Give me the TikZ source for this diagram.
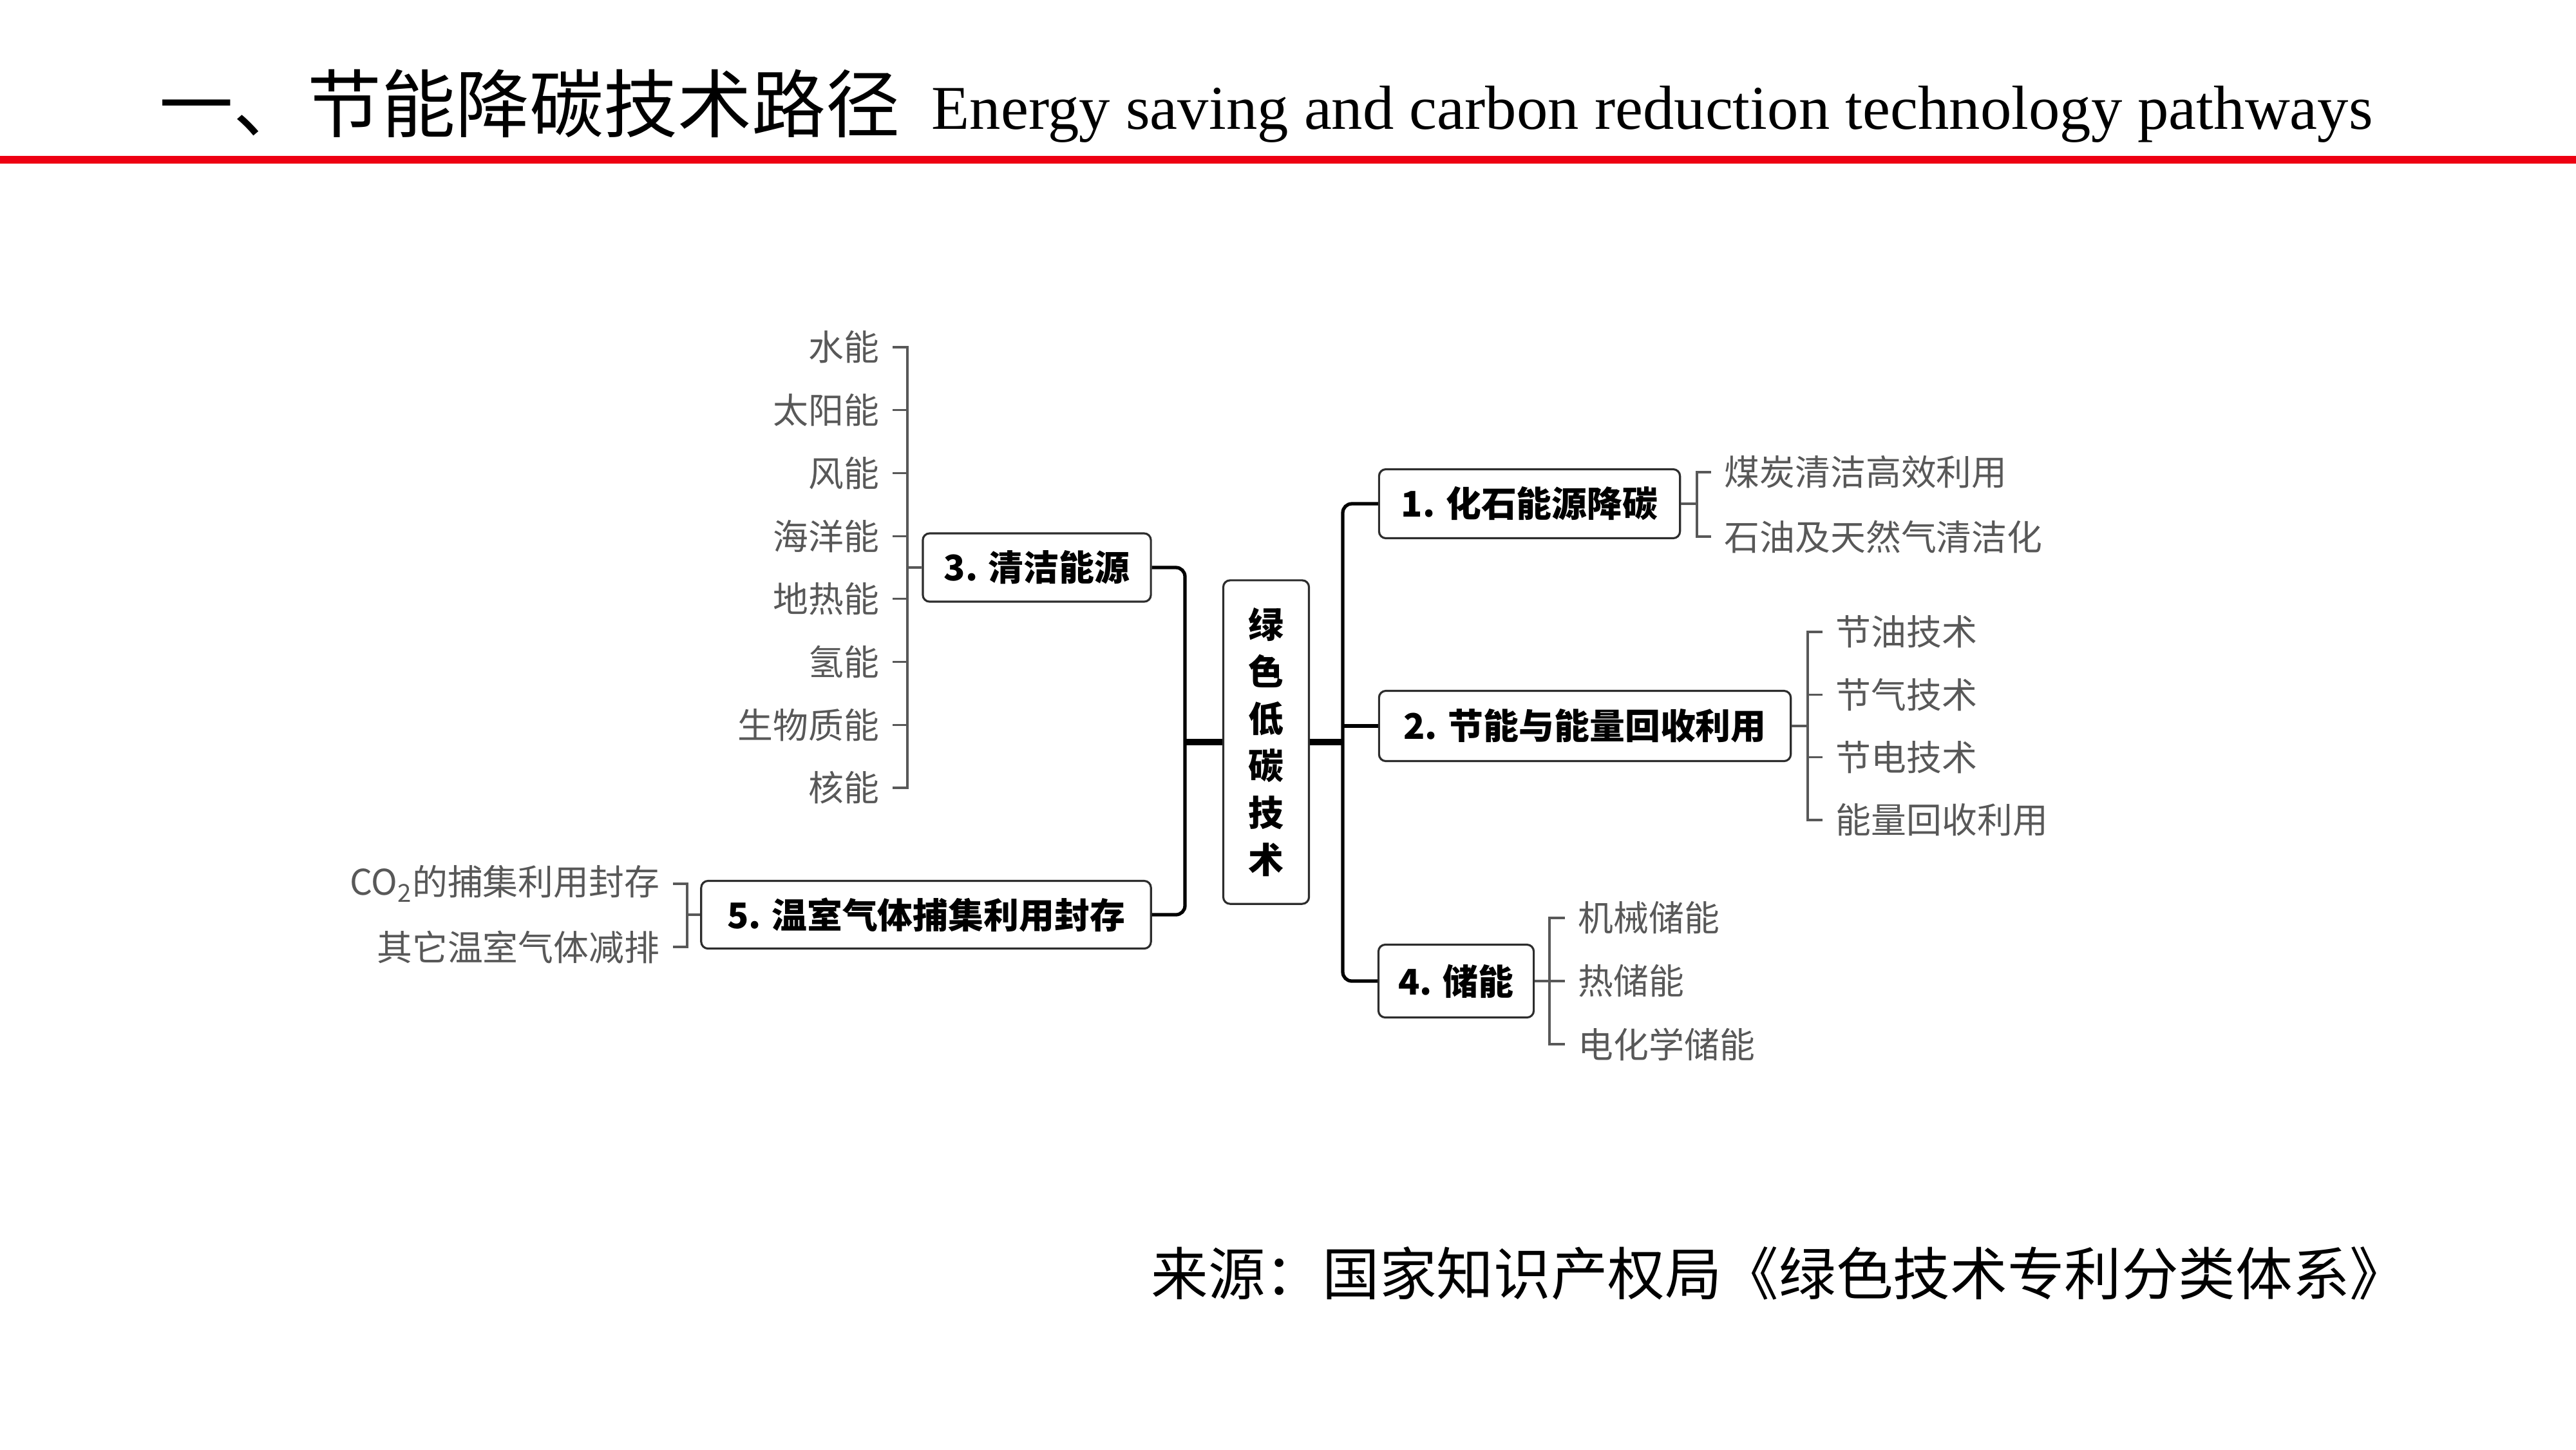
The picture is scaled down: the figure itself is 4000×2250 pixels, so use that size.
\documentclass[tikz,border=0pt]{standalone}
\usepackage{fontspec}
\setmainfont{Noto Sans CJK SC}
\newfontfamily\enfont{Liberation Serif}
\definecolor{titlered}{RGB}{238,0,18}
\definecolor{leafgray}{RGB}{88,88,88}
\definecolor{boxgray}{RGB}{45,45,45}

\begin{document}
\begin{tikzpicture}[x=0.01cm, y=-0.01cm,
    box/.style={draw=boxgray, line width=0.9pt, rounded corners=3pt, fill=white,
      inner sep=0pt, font=\fontsize{15.6}{18}\selectfont\bfseries},
    leaf/.style={inner xsep=0.2cm, inner ysep=0pt, text=leafgray,
      font=\fontsize{15.6}{18}\selectfont},
    trunk/.style={line width=1.5pt, rounded corners=4pt},
    spine/.style={line width=3pt},
    tick/.style={draw=leafgray, line width=0.9pt}]
    \useasboundingbox (0,0) rectangle (4000,2250);
    % title
    \node[anchor=west, inner sep=0pt, font=\fontsize{32.7}{36}\selectfont] (t) at (247,161) {一、节能降碳技术路径};
    \node[anchor=base west, inner sep=0pt, font=\enfont\fontsize{27.5}{30}\selectfont] (e) at (1446,200) {Energy saving and carbon reduction technology pathways};
    \draw [titlered, line width=3.4pt] (0,248) -- (4000,248);
    % boxes
    \node[box, minimum width=1.33cm, minimum height=5.02cm, align=center,
      font=\fontsize{15.6}{20.8}\selectfont\bfseries] (m) at (1966,1152) {绿\\色\\低\\碳\\技\\术};
    \node[box, minimum width=4.67cm, minimum height=1.07cm] (a) at (2375,782) {1. 化石能源降碳};
    \node[box, minimum width=6.39cm, minimum height=1.09cm] (b) at (2461,1127) {2. 节能与能量回收利用};
    \node[box, minimum width=3.54cm, minimum height=1.06cm] (c) at (1610,881) {3. 清洁能源};
    \node[box, minimum width=2.41cm, minimum height=1.13cm] (d) at (2261,1523) {4. 储能};
    \node[box, minimum width=6.98cm, minimum height=1.05cm] (f) at (1438,1420) {5. 温室气体捕集利用封存};
    \coordinate (l) at (1840,1152);
    \coordinate (r) at (2085,1152);
    \draw [trunk] (c.east) -| (l) |- (f.east);
    \draw [spine] (m.west) -- (l);
    \draw [trunk] (a.west) -| (r) |- (d.west);
    \draw [trunk] (b.west -| r) -- (b.west);
    \draw [spine] (m.east) -- (r);
    % leaves of 3
    \coordinate (cv) at (1409,881);
    \foreach \t [count=\i] in {水能,太阳能,风能,海洋能,地热能,氢能,生物质能,核能}
      \node[leaf, anchor=east] (c\i) at (1386,539+97.7*\i-97.7) {\t};
    \draw [tick] (c1.east) -| (cv) |- (c8.east);
    \foreach \i in {2,...,7} \draw [tick] (c\i.east) -- (c\i.east -| cv);
    \draw [tick] (cv) -- (c.west);
    % leaves of 1
    \coordinate (av) at (2635,782);
    \node[leaf, anchor=west] (a1) at (2657,733) {煤炭清洁高效利用};
    \node[leaf, anchor=west] (a2) at (2657,833) {石油及天然气清洁化};
    \draw [tick] (a1.west) -| (av) |- (a2.west);
    \draw [tick] (a.east) -- (av);
    % leaves of 2
    \coordinate (bv) at (2807,1127);
    \foreach \t [count=\i] in {节油技术,节气技术,节电技术,能量回收利用}
      \node[leaf, anchor=west] (b\i) at (2830,981+97.3*\i-97.3) {\t};
    \draw [tick] (b1.west) -| (bv) |- (b4.west);
    \foreach \i in {2,3} \draw [tick] (b\i.west) -- (b\i.west -| bv);
    \draw [tick] (b.east) -- (bv);
    % leaves of 4
    \coordinate (dv) at (2406,1523);
    \foreach \t [count=\i] in {机械储能,热储能,电化学储能}
      \node[leaf, anchor=west] (d\i) at (2430,1425+98*\i-98) {\t};
    \draw [tick] (d1.west) -| (dv) |- (d3.west);
    \draw [tick] (d.east) -- (d2.west);
    % leaves of 5
    \coordinate (fv) at (1067,1420);
    \node[leaf, anchor=east] (f1) at (1045,1372) {CO\textsubscript{2}的捕集利用封存};
    \node[leaf, anchor=east] (f2) at (1045,1470) {其它温室气体减排};
    \draw [tick] (f1.east) -| (fv) |- (f2.east);
    \draw [tick] (fv) -- (f.east -| fv) -- (f.west);
    % source
    \node[anchor=west, inner sep=0pt, font=\fontsize{25.2}{28}\selectfont] (s) at (1787,1977) {来源：国家知识产权局《绿色技术专利分类体系》};
\end{tikzpicture}
\end{document}
